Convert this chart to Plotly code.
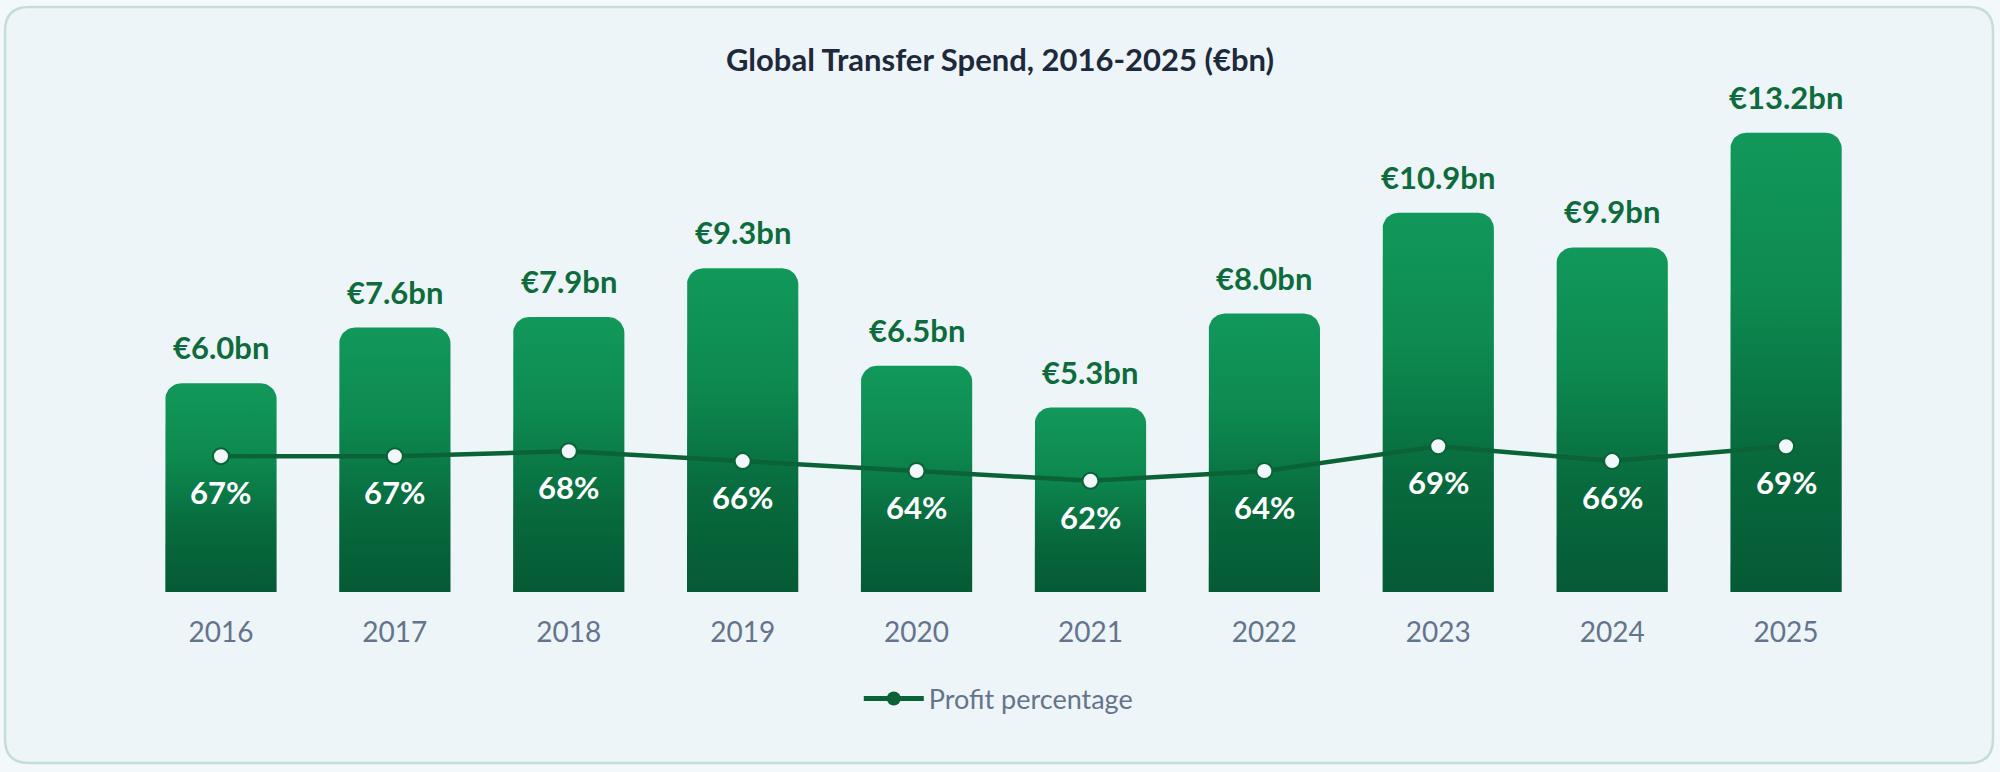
import math
import plotly.graph_objects as go

# ---------------- data ----------------
years = ["2016", "2017", "2018", "2019", "2020", "2021", "2022", "2023", "2024", "2025"]
spend_bn = [6.0, 7.6, 7.9, 9.3, 6.5, 5.3, 8.0, 10.9, 9.9, 13.2]
profit_pct = [67, 67, 68, 66, 64, 62, 64, 69, 66, 69]

# ---------------- layout constants ----------------
W, H = 2000, 772
ML, MR, MT, MB = 134, 127, 80, 180
PLOT_W = W - ML - MR
PLOT_H = H - MT - MB
PX_PER_BN = 34.8
PX_PER_PCT = 4.94
Y2_MIN = 39.5

n = len(years)
xs_idx = list(range(n))
x_range = [-0.5, n - 0.5]
y_range = [0, PLOT_H / PX_PER_BN]
y2_range = [Y2_MIN, Y2_MIN + PLOT_H / PX_PER_PCT]

BAR_FRAC = 0.64
RADIUS_PX = 16
px_per_x = PLOT_W / (x_range[1] - x_range[0])
rx = RADIUS_PX / px_per_x
ry = RADIUS_PX / PX_PER_BN
half_w = BAR_FRAC / 2

LINE_COLOR = "#0b6236"
GRAD = [[0.0, "#055a34"], [0.3, "#086a3d"], [0.65, "#0d8a50"], [1.0, "#12985a"]]


def rounded_bar(xc, v, segs=10):
    px, py = [xc - half_w, xc - half_w], [0, v - ry]
    for k in range(1, segs + 1):
        t = math.pi - (math.pi / 2) * k / segs
        px.append(xc - half_w + rx + rx * math.cos(t))
        py.append(v - ry + ry * math.sin(t))
    for k in range(0, segs + 1):
        t = math.pi / 2 - (math.pi / 2) * k / segs
        px.append(xc + half_w - rx + rx * math.cos(t))
        py.append(v - ry + ry * math.sin(t))
    px += [xc + half_w, xc - half_w]
    py += [0, 0]
    return px, py


fig = go.Figure()

for i, v in zip(xs_idx, spend_bn):
    bx, by = rounded_bar(i, v)
    fig.add_trace(go.Scatter(
        x=bx, y=by, mode="lines", line=dict(width=0, color="rgba(0,0,0,0)"),
        fill="toself", fillgradient=dict(type="vertical", colorscale=GRAD),
        hoverinfo="skip", showlegend=False,
    ))

fig.add_trace(go.Scatter(
    x=xs_idx, y=profit_pct, yaxis="y2", mode="lines+markers",
    line=dict(color=LINE_COLOR, width=4.5),
    marker=dict(size=16, color="#f1f7fa", line=dict(color=LINE_COLOR, width=2)),
    showlegend=False, name="Profit percentage",
))
# legend entry (filled marker as in the reference legend)
fig.add_trace(go.Scatter(
    x=[None], y=[None], yaxis="y2", mode="lines+markers", name="Profit percentage",
    line=dict(color=LINE_COLOR, width=5),
    marker=dict(size=14, color=LINE_COLOR),
))

annotations = []
for i, v in zip(xs_idx, spend_bn):
    annotations.append(dict(
        x=i, y=v, xref="x", yref="y", text=f"€{v:.1f}bn", showarrow=False,
        yanchor="middle", yshift=36,
        font=dict(family="Lato", size=31, color="#0d6b3c", weight=700),
    ))
for i, p in zip(xs_idx, profit_pct):
    annotations.append(dict(
        x=i, y=p, xref="x", yref="y2", text=f"{p}%", showarrow=False,
        yanchor="middle", yshift=-36,
        font=dict(family="Lato", size=31, color="#ffffff", weight=700),
    ))

# card background (rounded rectangle in paper coords)
cx0 = (5 - ML) / PLOT_W
cx1 = (1993 - ML) / PLOT_W
cy1 = (MT + PLOT_H - 7) / PLOT_H
cy0 = (MT + PLOT_H - 763) / PLOT_H
crx = 24 / PLOT_W
cry = 24 / PLOT_H
card_path = (
    f"M {cx0+crx},{cy1} L {cx1-crx},{cy1} Q {cx1},{cy1} {cx1},{cy1-cry} "
    f"L {cx1},{cy0+cry} Q {cx1},{cy0} {cx1-crx},{cy0} "
    f"L {cx0+crx},{cy0} Q {cx0},{cy0} {cx0},{cy0+cry} "
    f"L {cx0},{cy1-cry} Q {cx0},{cy1} {cx0+crx},{cy1} Z"
)

fig.update_layout(
    width=W, height=H,
    margin=dict(l=ML, r=MR, t=MT, b=MB),
    paper_bgcolor="#f3f8fb",
    plot_bgcolor="rgba(0,0,0,0)",
    font=dict(family="Lato"),
    title=dict(
        text="Global Transfer Spend, 2016-2025 (€bn)",
        x=0.5, xref="container", xanchor="center",
        y=1 - 60 / H, yref="container", yanchor="middle",
        font=dict(family="Lato", size=31, color="#1e293b", weight=700),
    ),
    xaxis=dict(
        range=x_range, tickmode="array", tickvals=xs_idx, ticktext=years,
        showgrid=False, zeroline=False, showline=False, ticks="",
        ticklabelstandoff=21,
        tickfont=dict(family="Lato", size=28, color="#64748b"),
        fixedrange=True,
    ),
    yaxis=dict(range=y_range, visible=False, showgrid=False, zeroline=False),
    yaxis2=dict(range=y2_range, overlaying="y", visible=False, showgrid=False, zeroline=False),
    showlegend=True,
    legend=dict(
        orientation="h", x=0.497, xanchor="center", y=(592 - 699) / PLOT_H, yanchor="middle",
        font=dict(family="Lato", size=27, color="#64748b"),
        bgcolor="rgba(0,0,0,0)", itemwidth=60,
    ),
    annotations=annotations,
    shapes=[dict(
        type="path", xref="paper", yref="paper", path=card_path,
        fillcolor="#edf5f8", line=dict(color="#c4ddd8", width=2.5), layer="below",
    )],
)

fig.write_html("out.html")
